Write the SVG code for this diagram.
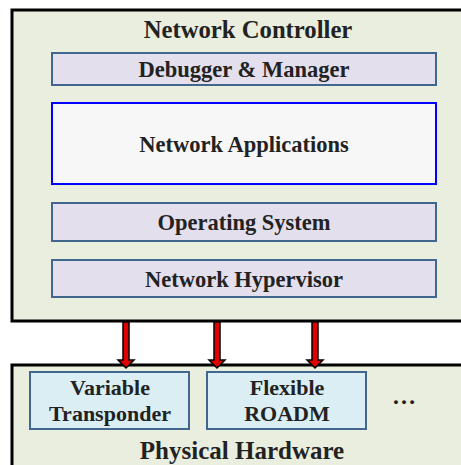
<svg xmlns="http://www.w3.org/2000/svg" width="461" height="465" viewBox="0 0 461 465">
<style>
text{font-family:"Liberation Serif","Times New Roman",serif;font-weight:bold;fill:#222;text-anchor:middle}
.layer{fill:#E4DFEC;stroke:#41678F;stroke-width:2}
.hw{fill:#DAEEF3;stroke:#41678F;stroke-width:2}
.outer{fill:#EAEEDF;stroke:#000;stroke-width:3}
.arrow{fill:#E00000;stroke:#000;stroke-width:1.5;stroke-linejoin:miter}
.t{font-size:22.5px}
.h{font-size:22px}
</style>
<rect width="461" height="465" fill="#fff"/>
<g id="controller">
<rect class="outer" x="12" y="10" width="455" height="311"/>
<text x="248" y="38" font-size="24.7">Network Controller</text>
</g>
<g id="debugger">
<rect class="layer" x="52" y="53" width="384" height="32"/>
<text class="t" x="244" y="77">Debugger &amp; Manager</text>
</g>
<g id="applications">
<rect x="52" y="103" width="384" height="81" fill="#F7F7F7" stroke="#0000FF" stroke-width="2"/>
<text class="t" x="244" y="152">Network Applications</text>
</g>
<g id="os">
<rect class="layer" x="52" y="203" width="384" height="38"/>
<text class="t" x="244" y="230">Operating System</text>
</g>
<g id="hypervisor">
<rect class="layer" x="52" y="260" width="384" height="37"/>
<text class="t" x="244" y="287">Network Hypervisor</text>
</g>
<g id="hardware">
<rect class="outer" x="12" y="365" width="455" height="110"/>
<text x="242" y="459" font-size="25">Physical Hardware</text>
<text x="404" y="404" font-size="24">…</text>
</g>
<g id="transponder">
<rect class="hw" x="30" y="372" width="159" height="57"/>
<text class="h" x="110" y="395">Variable</text>
<text class="h" x="110" y="421">Transponder</text>
</g>
<g id="roadm">
<rect class="hw" x="207" y="372" width="159" height="57"/>
<text class="h" x="287" y="395">Flexible</text>
<text class="h" x="287" y="421">ROADM</text>
</g>
<g id="connectors">
<path class="arrow" d="M123 322 V360 H118 L126 368 L134 360 H129 V322 Z"/>
<path class="arrow" d="M214 322 V360 H209 L217 368 L225 360 H220 V322 Z"/>
<path class="arrow" d="M312 322 V360 H307 L315 368 L323 360 H318 V322 Z"/>
</g>
</svg>
